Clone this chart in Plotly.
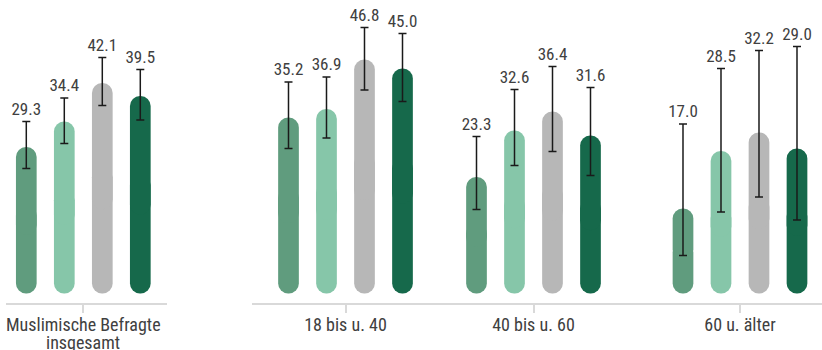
import plotly.graph_objects as go

# ---------------- data ----------------
groups = ["Muslimische Befragte", "18 bis u. 40", "40 bis u. 60", "60 u. älter"]
group1_second_line = "insgesamt"

series_names = ["Reihe 1", "Reihe 2", "Reihe 3", "Reihe 4"]

# values per series, one per group
s1_values = [29.3, 35.2, 23.3, 17.0]
s2_values = [34.4, 36.9, 32.6, 28.5]
s3_values = [42.1, 46.8, 36.4, 32.2]
s4_values = [39.5, 45.0, 31.6, 29.0]

# confidence interval bounds
s1_lower = [25.0, 29.0, 16.8, 7.6]
s1_upper = [34.4, 42.3, 31.4, 33.9]
s2_lower = [30.0, 31.1, 25.6, 16.3]
s2_upper = [39.1, 43.3, 40.8, 45.0]
s3_lower = [37.6, 40.7, 28.4, 19.3]
s3_upper = [47.2, 53.2, 45.4, 48.6]
s4_lower = [34.7, 38.4, 23.6, 14.7]
s4_upper = [44.8, 52.0, 41.2, 49.4]

# ---------------- styling ----------------
colors = ["#609c7e", "#86c6a9", "#b7b7b7", "#16694b"]
FONT = "Roboto Condensed"
TEXT_COLOR = "#404040"
AXIS_COLOR = "#d9d9d9"

W, H = 822, 350
MT, MB = 0, 47
PLOT_H = H - MT - MB
Y0_PX = 293.5          # pixel row of value 0
PX_PER_UNIT = 5.0
y_lo = -(MT + PLOT_H - Y0_PX) / PX_PER_UNIT
y_hi = (Y0_PX - MT) / PX_PER_UNIT

# x-axis segments in pixels: (left, right, category centre)
segments = [(6, 166.7, 83.3), (252.4, 439.0, 345.5), (439.0, 625.6, 533.5), (625.6, 822.0, 740.0)]
U = 190.0              # pixels per category unit on every segment
SLOT_PX, BAR_PX = 38.0, 20.7
BARGAP = 1 - 4 * SLOT_PX / U
BAR_W = BAR_PX / U

values = [s1_values, s2_values, s3_values, s4_values]
lowers = [s1_lower, s2_lower, s3_lower, s4_lower]
uppers = [s1_upper, s2_upper, s3_upper, s4_upper]

fig = go.Figure()
for gi, g in enumerate(groups):
    xa = "x" if gi == 0 else f"x{gi + 1}"
    for si in range(4):
        v = values[si][gi]
        lo = lowers[si][gi]
        up = uppers[si][gi]
        common = dict(x=[g], xaxis=xa, yaxis="y", offsetgroup=str(si), width=BAR_W,
                      showlegend=False, hoverinfo="skip", name=series_names[si])
        # lower half (rounded bottom)
        fig.add_trace(go.Bar(y=[-v * 0.6], base=[v * 0.6],
                             marker=dict(color=colors[si], cornerradius="50%", line=dict(width=0)),
                             **common))
        # upper half (rounded top) carrying the error bar
        fig.add_trace(go.Bar(y=[v * 0.6], base=[v * 0.4],
                             marker=dict(color=colors[si], cornerradius="50%", line=dict(width=0)),
                             error_y=dict(type="data", symmetric=False, array=[up - v],
                                          arrayminus=[v - lo], color="#1a1a1a",
                                          thickness=1.5, width=4),
                             **common))
        # invisible bar up to the CI top, carrying the value label
        fig.add_trace(go.Bar(y=[up], marker=dict(color="rgba(0,0,0,0)", line=dict(width=0)),
                             text=[f"{v:.1f}"], textposition="outside", textangle=0,
                             constraintext="none", cliponaxis=False,
                             textfont=dict(family=FONT, size=17, color=TEXT_COLOR),
                             **common))

layout = dict(
    width=W, height=H,
    margin=dict(l=0, r=0, t=MT, b=MB),
    paper_bgcolor="white", plot_bgcolor="white",
    barmode="group", bargap=BARGAP, bargroupgap=0,
    showlegend=False,
    yaxis=dict(range=[y_lo, y_hi], showgrid=False, zeroline=False, showticklabels=False,
               showline=False, ticks=""),
)
for gi, (l, r, c) in enumerate(segments):
    key = "xaxis" if gi == 0 else f"xaxis{gi + 1}"
    layout[key] = dict(
        type="category", anchor="y",
        domain=[l / W, r / W],
        range=[-(c - l) / U, (r - c) / U],
        showgrid=False, zeroline=False,
        showline=True, linecolor=AXIS_COLOR, linewidth=1.5,
        ticks="outside", ticklen=8, tickcolor=AXIS_COLOR, tickwidth=1.5,
        ticklabelstandoff=-3,
        tickfont=dict(family=FONT, size=18, color=TEXT_COLOR),
    )
fig.update_layout(**layout)

fig.add_annotation(x=groups[0], xref="x", y=(MT + PLOT_H - 342) / PLOT_H,
                   yref="paper", yanchor="middle", text=group1_second_line, showarrow=False,
                   font=dict(family=FONT, size=18, color=TEXT_COLOR))

fig.write_html("out.html")
